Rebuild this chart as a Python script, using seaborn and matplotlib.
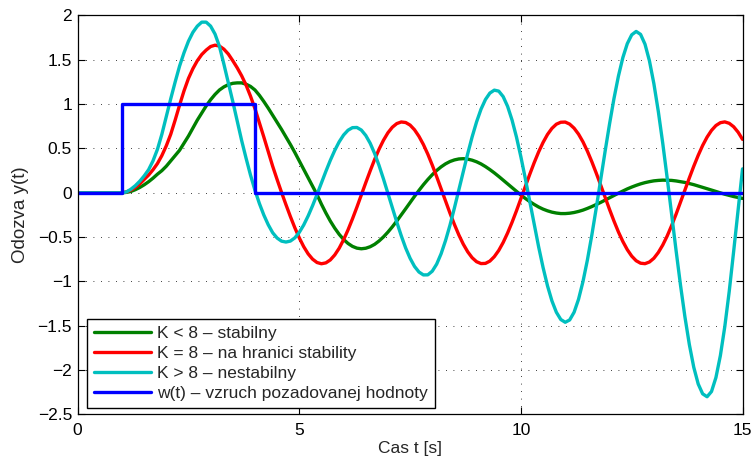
import matplotlib
matplotlib.use('Agg')
import matplotlib.pyplot as plt
import seaborn as sns

# time samples [s]
t = [0.0,
     1.0, 1.1, 1.2, 1.3, 1.4, 1.5, 1.6, 1.7, 1.8, 1.9,
     2.0, 2.1, 2.2, 2.3, 2.4, 2.5, 2.6, 2.7, 2.8, 2.9,
     3.0, 3.1, 3.2, 3.3, 3.4, 3.5, 3.6, 3.7, 3.8, 3.9,
     4.0, 4.1, 4.2, 4.3, 4.4, 4.5, 4.6, 4.7, 4.8, 4.9,
     5.0, 5.1, 5.2, 5.3, 5.4, 5.5, 5.6, 5.7, 5.8, 5.9,
     6.0, 6.1, 6.2, 6.3, 6.4, 6.5, 6.6, 6.7, 6.8, 6.9,
     7.0, 7.1, 7.2, 7.3, 7.4, 7.5, 7.6, 7.7, 7.8, 7.9,
     8.0, 8.1, 8.2, 8.3, 8.4, 8.5, 8.6, 8.7, 8.8, 8.9,
     9.0, 9.1, 9.2, 9.3, 9.4, 9.5, 9.6, 9.7, 9.8, 9.9,
     10.0, 10.1, 10.2, 10.3, 10.4, 10.5, 10.6, 10.7, 10.8, 10.9,
     11.0, 11.1, 11.2, 11.3, 11.4, 11.5, 11.6, 11.7, 11.8, 11.9,
     12.0, 12.1, 12.2, 12.3, 12.4, 12.5, 12.6, 12.7, 12.8, 12.9,
     13.0, 13.1, 13.2, 13.3, 13.4, 13.5, 13.6, 13.7, 13.8, 13.9,
     14.0, 14.1, 14.2, 14.3, 14.4, 14.5, 14.6, 14.7, 14.8, 14.9,
     15.0]

# K < 8 (stable)
y_stable = [0.0,
    0.0, 0.005, 0.015, 0.035, 0.06, 0.09, 0.125, 0.165, 0.21, 0.25,
    0.30, 0.36, 0.42, 0.48, 0.56, 0.64, 0.73, 0.82, 0.90, 0.98,
    1.05, 1.11, 1.16, 1.195, 1.22, 1.235, 1.24, 1.24, 1.225, 1.20,
    1.16, 1.10, 1.03, 0.955, 0.875, 0.795, 0.715, 0.63, 0.545, 0.455,
    0.36, 0.265, 0.17, 0.075, -0.02, -0.128, -0.227, -0.318, -0.398, -0.468,
    -0.526, -0.571, -0.604, -0.624, -0.631, -0.625, -0.608, -0.581, -0.543, -0.497,
    -0.443, -0.383, -0.318, -0.250, -0.180, -0.110, -0.040, 0.027, 0.091, 0.150,
    0.204, 0.252, 0.293, 0.327, 0.353, 0.371, 0.382, 0.385, 0.380, 0.368,
    0.350, 0.326, 0.296, 0.262, 0.225, 0.185, 0.143, 0.101, 0.058, 0.016,
    -0.025, -0.063, -0.099, -0.131, -0.160, -0.184, -0.203, -0.218, -0.228, -0.234,
    -0.234, -0.230, -0.222, -0.210, -0.195, -0.176, -0.155, -0.132, -0.108, -0.082,
    -0.056, -0.030, -0.004, 0.020, 0.044, 0.065, 0.084, 0.101, 0.115, 0.126,
    0.135, 0.140, 0.143, 0.142, 0.140, 0.134, 0.126, 0.117, 0.105, 0.092,
    0.077, 0.062, 0.046, 0.031, 0.015, -0.001, -0.016, -0.029, -0.042, -0.053,
    -0.063]

# K = 8 (stability limit)
y_limit = [0.0,
    0.0, 0.01, 0.03, 0.06, 0.10, 0.15, 0.20, 0.26, 0.33, 0.42,
    0.53, 0.66, 0.82, 0.99, 1.15, 1.29, 1.40, 1.49, 1.56, 1.61,
    1.65, 1.665, 1.655, 1.62, 1.565, 1.49, 1.41, 1.32, 1.215, 1.09,
    0.95, 0.79, 0.63, 0.465, 0.30, 0.15, 0.005, -0.134, -0.268, -0.394,
    -0.508, -0.607, -0.688, -0.748, -0.786, -0.800, -0.790, -0.757, -0.701, -0.625,
    -0.529, -0.418, -0.294, -0.162, -0.024, 0.114, 0.248, 0.376, 0.492, 0.593,
    0.677, 0.740, 0.781, 0.799, 0.793, 0.764, 0.711, 0.637, 0.545, 0.436,
    0.313, 0.182, 0.045, -0.093, -0.229, -0.357, -0.475, -0.579, -0.665, -0.732,
    -0.777, -0.798, -0.796, -0.770, -0.720, -0.650, -0.560, -0.453, -0.333, -0.203,
    -0.067, 0.072, 0.209, 0.340, 0.461, 0.568, 0.658, 0.727, 0.774, 0.796,
    0.798, 0.775, 0.729, 0.662, 0.575, 0.470, 0.351, 0.222, 0.087, -0.052,
    -0.188, -0.319, -0.441, -0.549, -0.641, -0.714, -0.766, -0.794, -0.799, -0.780,
    -0.738, -0.673, -0.589, -0.487, -0.370, -0.242, -0.107, 0.031, 0.168, 0.300,
    0.423, 0.534, 0.628, 0.704, 0.759, 0.791, 0.800, 0.784, 0.745, 0.684,
    0.603]

# K > 8 (unstable)
y_unstable = [0.0,
    0.0, 0.01, 0.04, 0.08, 0.13, 0.19, 0.26, 0.36, 0.49, 0.66,
    0.86, 1.06, 1.25, 1.43, 1.58, 1.71, 1.81, 1.88, 1.925, 1.925,
    1.88, 1.79, 1.65, 1.45, 1.24, 1.03, 0.81, 0.59, 0.39, 0.20,
    0.03, -0.12, -0.25, -0.36, -0.45, -0.51, -0.545, -0.555, -0.544, -0.508,
    -0.446, -0.363, -0.261, -0.145, -0.019, 0.112, 0.242, 0.366, 0.478, 0.575,
    0.652, 0.706, 0.735, 0.737, 0.708, 0.647, 0.559, 0.444, 0.308, 0.156,
    -0.005, -0.169, -0.330, -0.483, -0.622, -0.738, -0.830, -0.893, -0.926, -0.925,
    -0.884, -0.804, -0.687, -0.538, -0.365, -0.171, 0.031, 0.238, 0.441, 0.631,
    0.800, 0.943, 1.052, 1.125, 1.158, 1.147, 1.085, 0.975, 0.821, 0.629,
    0.405, 0.160, -0.098, -0.357, -0.609, -0.842, -1.049, -1.219, -1.347, -1.429,
    -1.460, -1.434, -1.347, -1.201, -1.002, -0.758, -0.477, -0.171, 0.149, 0.469,
    0.777, 1.064, 1.316, 1.525, 1.682, 1.782, 1.820, 1.787, 1.676, 1.488,
    1.231, 0.918, 0.559, 0.168, -0.240, -0.648, -1.039, -1.398, -1.711, -1.968,
    -2.156, -2.267, -2.300, -2.241, -2.083, -1.836, -1.508, -1.111, -0.659, -0.19,
    0.27]

# w(t) reference pulse (step-post)
w_t = [0.0, 1.0, 4.0, 15.0]
w_val = [0.0, 1.0, 0.0, 0.0]

series_labels = ['K < 8 – stabilny',
                 'K = 8 – na hranici stability',
                 'K > 8 – nestabilny',
                 'w(t) – vzruch pozadovanej hodnoty']
series_colors = ['#008000', '#FF0000', '#00BFBF', '#0000FF']

xticks = [0, 5, 10, 15]
xtick_labels = ['0', '5', '10', '15']
yticks = [-2.5, -2.0, -1.5, -1.0, -0.5, 0.0, 0.5, 1.0, 1.5, 2.0]
ytick_labels = ['\u22122.5', '\u22122', '\u22121.5', '\u22121', '\u22120.5',
                '0', '0.5', '1', '1.5', '2']

sns.set_style('ticks')
plt.rcParams['font.family'] = ['Liberation Sans', 'DejaVu Sans']

fig = plt.figure(figsize=(7.53, 4.61), dpi=100)
ax = fig.add_axes([0.1031, 0.1009, 0.883, 0.8655])

lw = 2.4
sns.lineplot(x=t, y=y_stable, ax=ax, color=series_colors[0], linewidth=lw,
             label=series_labels[0], estimator=None, sort=False)
sns.lineplot(x=t, y=y_limit, ax=ax, color=series_colors[1], linewidth=lw,
             label=series_labels[1], estimator=None, sort=False)
sns.lineplot(x=t, y=y_unstable, ax=ax, color=series_colors[2], linewidth=lw,
             label=series_labels[2], estimator=None, sort=False)
sns.lineplot(x=w_t, y=w_val, ax=ax, color=series_colors[3], linewidth=lw,
             label=series_labels[3], estimator=None, sort=False,
             drawstyle='steps-post')

ax.set_xlim(0, 15)
ax.set_ylim(-2.5, 2)
ax.set_xticks(xticks, labels=xtick_labels)
ax.set_yticks(yticks, labels=ytick_labels)
ax.tick_params(direction='in', top=True, right=True, length=5, width=0.8,
               labelsize=12.5, colors='black')
ax.tick_params(axis='x', pad=6)
ax.tick_params(axis='y', pad=4)
ax.grid(True, color='black', linestyle=(0, (1, 8)), linewidth=0.6)
ax.set_axisbelow(True)
for s in ax.spines.values():
    s.set_visible(True)
    s.set_color('black')
    s.set_linewidth(0.9)

ax.set_xlabel('Cas t [s]', fontsize=12.5, labelpad=2)
ax.set_ylabel('Odozva y(t)', fontsize=13.5, labelpad=6)

leg = ax.legend(loc='lower left', bbox_to_anchor=(0.0137, 0.017),
                borderaxespad=0, frameon=True, fancybox=False,
                edgecolor='black', fontsize=12.5, handlelength=3.3,
                labelspacing=0.27, borderpad=0.4, handletextpad=0.35)
leg.get_frame().set_linewidth(1.0)
leg.get_frame().set_alpha(1.0)

fig.savefig('out.png', dpi=100)
